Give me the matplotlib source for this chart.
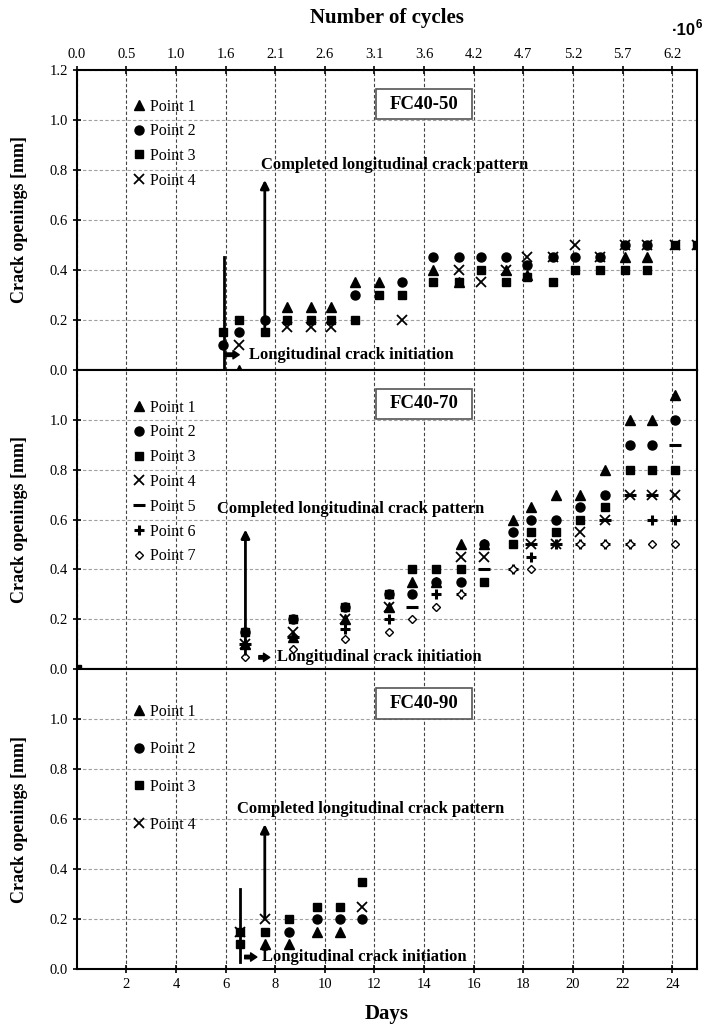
import numpy as np
import matplotlib.pyplot as plt
from matplotlib.patches import Rectangle

plt.rcParams['font.family'] = ['Liberation Serif', 'DejaVu Serif']

nan = np.nan

day_ticks = np.arange(0, 25, 2)
cycle_labels = ["0.0", "0.5", "1.0", "1.6", "2.1", "2.6", "3.1",
                "3.6", "4.2", "4.7", "5.2", "5.7", "6.2"]
point_names = ["Point 1", "Point 2", "Point 3", "Point 4",
               "Point 5", "Point 6", "Point 7"]

# FC40-50
days_50 = [5.9, 6.55, 7.58, 8.47, 9.44, 10.24, 11.2, 12.18, 13.1, 14.35, 15.4,
           16.3, 17.3, 18.15, 19.2, 20.1, 21.1, 22.1, 23.0, 24.1, 25.0]
p1_50 = [nan, 0.0, nan, 0.25, 0.25, 0.25, 0.35, 0.35, nan, 0.4, 0.35,
         nan, 0.4, 0.38, nan, nan, nan, 0.45, 0.45, nan, nan]
p2_50 = [0.1, 0.15, 0.2, nan, nan, nan, 0.3, nan, 0.35, 0.45, 0.45,
         0.45, 0.45, 0.42, 0.45, 0.45, 0.45, 0.5, 0.5, nan, nan]
p3_50 = [0.15, 0.2, 0.15, 0.2, 0.2, 0.2, 0.2, 0.3, 0.3, 0.35, 0.35,
         0.4, 0.35, 0.37, 0.35, 0.4, 0.4, 0.4, 0.4, 0.5, 0.5]
p4_50 = [nan, 0.1, nan, 0.17, 0.17, 0.17, nan, nan, 0.2, nan, 0.4,
         0.35, 0.4, 0.45, 0.45, 0.5, 0.45, 0.5, 0.5, 0.5, 0.5]

# FC40-70
days_70 = [0.0, 6.8, 8.7, 10.8, 12.6, 13.5, 14.5, 15.5, 16.4, 17.6, 18.3,
           19.3, 20.3, 21.3, 22.3, 23.2, 24.1]
p1_70 = [nan, 0.1, 0.13, 0.2, 0.25, 0.35, 0.35, 0.5, 0.5, 0.6, 0.65,
         0.7, 0.7, 0.8, 1.0, 1.0, 1.1]
p2_70 = [nan, 0.15, 0.2, 0.25, 0.3, 0.3, 0.35, 0.35, 0.5, 0.55, 0.6,
         0.6, 0.65, 0.7, 0.9, 0.9, 1.0]
p3_70 = [0.0, 0.15, 0.2, 0.25, 0.3, 0.4, 0.4, 0.4, 0.35, 0.5, 0.55,
         0.55, 0.6, 0.65, 0.8, 0.8, 0.8]
p4_70 = [nan, 0.1, 0.15, 0.2, 0.25, nan, nan, 0.45, 0.45, nan, 0.5,
         0.5, 0.55, 0.6, 0.7, 0.7, 0.7]
p5_70 = [nan, 0.1, 0.13, nan, nan, 0.25, nan, nan, 0.4, nan, 0.5,
         0.5, nan, 0.6, 0.7, 0.7, 0.9]
p6_70 = [nan, 0.1, 0.13, 0.16, 0.2, nan, 0.3, 0.3, nan, 0.4, 0.45,
         0.5, 0.5, 0.5, 0.5, 0.6, 0.6]
p7_70 = [nan, 0.05, 0.08, 0.12, 0.15, 0.2, 0.25, 0.3, nan, 0.4, 0.4,
         nan, 0.5, 0.5, 0.5, 0.5, 0.5]

# FC40-90
days_90 = [6.57, 6.57, 7.58, 8.55, 9.67, 10.6, 11.5]
p1_90 = [nan, nan, 0.1, 0.1, 0.15, 0.15, nan]
p2_90 = [nan, nan, nan, 0.15, 0.2, 0.2, 0.2]
p3_90 = [0.1, 0.15, 0.15, 0.2, 0.25, 0.25, 0.35]
p4_90 = [nan, 0.15, 0.2, nan, nan, nan, 0.25]

styles = [
    dict(marker='^', ms=6.5, mfc='k', mec='k'),
    dict(marker='o', ms=6.5, mfc='k', mec='k'),
    dict(marker='s', ms=6.3, mfc='k', mec='k'),
    dict(marker='x', ms=6.5, mew=1.3, mec='k'),
    dict(marker='_', ms=8, mew=2.2, mec='k'),
    dict(marker='+', ms=7, mew=2.2, mec='k'),
    dict(marker='D', ms=4.5, mfc='white', mec='k', mew=1),
]

fig, axes = plt.subplots(3, 1, figsize=(7.04, 10.24), dpi=100)
fig.subplots_adjust(left=0.109, right=0.990, bottom=0.0537, top=0.9316, hspace=0)

panels = [
    dict(name="FC40-50", days=days_50, series=[p1_50, p2_50, p3_50, p4_50],
         leg_top=0.905, leg_space=0.55,
         line=(5.93, 0.0, 0.45), arrow=(7.58, 0.15, 0.76),
         done=(7.42, 0.82), init_arrow=(6.0, 6.55, 0.06), init=(6.94, 0.06)),
    dict(name="FC40-70", days=days_70,
         series=[p1_70, p2_70, p3_70, p4_70, p5_70, p6_70, p7_70],
         leg_top=0.9, leg_space=0.55,
         line=None, arrow=(6.8, 0.06, 0.56),
         done=(5.65, 0.644), init_arrow=(7.34, 7.78, 0.048), init=(8.06, 0.048)),
    dict(name="FC40-90", days=days_90, series=[p1_90, p2_90, p3_90, p4_90],
         leg_top=0.885, leg_space=1.35,
         line=(6.57, 0.03, 0.32), arrow=(7.58, 0.2, 0.58),
         done=(6.45, 0.64), init_arrow=(6.77, 7.26, 0.048), init=(7.46, 0.048)),
]

for ax, p in zip(axes, panels):
    for i, vals in enumerate(p["series"]):
        ax.plot(p["days"], vals, ls='none', label=point_names[i], **styles[i])

    ax.set_xlim(0, 25)
    ax.set_ylim(0, 1.2)
    ax.set_axisbelow(True)
    ax.grid(axis='x', color='#444444', ls=(0, (3, 2)), lw=0.8)
    ax.grid(axis='y', color='#a0a0a0', ls=(0, (3, 2)), lw=0.8)
    for s in ax.spines.values():
        s.set_linewidth(1.5)
    ax.tick_params(direction='inout', length=6, width=1.2, labelsize=10.5)

    ax.set_ylabel("Crack openings [mm]", fontweight='bold', fontsize=13)
    ax.yaxis.set_label_coords(-0.078, 0.5)

    ax.legend(loc='upper left', bbox_to_anchor=(0.09, p["leg_top"]), frameon=False,
              handlelength=0.8, handletextpad=0.3, borderaxespad=0, borderpad=0,
              labelspacing=p["leg_space"], fontsize=11.5, numpoints=1)

    ax.add_patch(Rectangle((0.483, 0.835), 0.155, 0.102, transform=ax.transAxes,
                           fc='white', ec='#555555', lw=1.2, zorder=4))
    ax.text(0.5605, 0.886, p["name"], transform=ax.transAxes, ha='center',
            va='center', fontweight='bold', fontsize=13.5, zorder=5)

    if p["line"] is not None:
        x, y0, y1 = p["line"]
        ax.plot([x, x], [y0, y1], color='k', lw=2)
    x, y0, y1 = p["arrow"]
    ax.annotate('', xy=(x, y1), xytext=(x, y0),
                arrowprops=dict(arrowstyle='-|>,head_length=0.5,head_width=0.25',
                                color='k', lw=2, shrinkA=0, shrinkB=0))
    ax.text(*p["done"], "Completed longitudinal crack pattern", ha='left',
            va='center', fontweight='bold', fontsize=12)
    x0, x1, y = p["init_arrow"]
    ax.annotate('', xy=(x1, y), xytext=(x0, y),
                arrowprops=dict(arrowstyle='simple,head_length=0.45,head_width=0.6,tail_width=0.25',
                                color='k', shrinkA=0, shrinkB=0))
    ax.text(*p["init"], "Longitudinal crack initiation", ha='left',
            va='center', fontweight='bold', fontsize=12)

# top axis: number of cycles
top = axes[0]
top.set_yticks(np.arange(0, 1.21, 0.2))
top.set_yticklabels([f"{v:.1f}" for v in np.arange(0, 1.21, 0.2)])
top.xaxis.tick_top()
top.set_xticks(day_ticks)
top.set_xticklabels(cycle_labels)
top.xaxis.set_label_position('top')
top.set_xlabel("Number of cycles", fontweight='bold', fontsize=15, labelpad=18)

mid = axes[1]
mid.set_yticks(np.arange(0, 1.01, 0.2))
mid.set_yticklabels([f"{v:.1f}" for v in np.arange(0, 1.01, 0.2)])
mid.set_xticks(day_ticks)
mid.tick_params(axis='x', length=0, labelbottom=False)

bot = axes[2]
bot.set_yticks(np.arange(0, 1.01, 0.2))
bot.set_yticklabels([f"{v:.1f}" for v in np.arange(0, 1.01, 0.2)])
bot.set_xticks(day_ticks[1:])
bot.set_xticklabels([str(d) for d in day_ticks[1:]])
bot.set_xlabel("Days", fontweight='bold', fontsize=15, labelpad=9)

fig.text(0.988, 0.970, "·10", family='Liberation Sans', fontweight='bold',
         fontsize=12, ha='right', va='center')
fig.text(0.988, 0.976, "6", family='Liberation Sans', fontweight='bold',
         fontsize=8.5, ha='left', va='center')

fig.savefig("out.png", dpi=100)
